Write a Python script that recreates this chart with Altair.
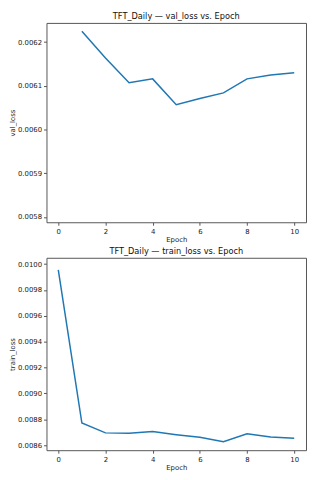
import altair as alt
import pandas as pd

epochs_val = [1, 2, 3, 4, 5, 6, 7, 8, 9, 10]
val_loss = [0.006225, 0.006164, 0.006107, 0.006116, 0.006057, 0.006071, 0.006084, 0.006116, 0.006125, 0.006130]

epochs_train = [0, 1, 2, 3, 4, 5, 6, 7, 8, 9, 10]
train_loss = [0.009956, 0.008771, 0.008695, 0.008693, 0.008705, 0.008681, 0.008661, 0.008627, 0.008688, 0.008664, 0.008654]

x_ticks = [0, 2, 4, 6, 8, 10]
val_ticks = [0.0058, 0.0059, 0.0060, 0.0061, 0.0062]
train_ticks = [0.0086, 0.0088, 0.0090, 0.0092, 0.0094, 0.0096, 0.0098, 0.0100]

df_val = pd.DataFrame({"Epoch": epochs_val, "val_loss": val_loss})
df_train = pd.DataFrame({"Epoch": epochs_train, "train_loss": train_loss})

LINE = "#1f77b4"
FONT = "DejaVu Sans"

def xaxis():
    return alt.X("Epoch:Q", scale=alt.Scale(domain=[-0.5, 10.5], nice=False, zero=False),
                 axis=alt.Axis(values=x_ticks, title="Epoch", grid=False, format="d"))

top = alt.Chart(df_val).mark_line(color=LINE, strokeWidth=1.5).encode(
    x=xaxis(),
    y=alt.Y("val_loss:Q", scale=alt.Scale(domain=[0.005788, 0.006244], nice=False, zero=False),
            axis=alt.Axis(values=val_ticks, format=".4f", title="val_loss", grid=False)),
).properties(width=263, height=202, title="TFT_Daily — val_loss vs. Epoch")

bottom = alt.Chart(df_train).mark_line(color=LINE, strokeWidth=1.5).encode(
    x=xaxis(),
    y=alt.Y("train_loss:Q", scale=alt.Scale(domain=[0.008561, 0.010049], nice=False, zero=False),
            axis=alt.Axis(values=train_ticks, format=".4f", title="train_loss", grid=False)),
).properties(width=263, height=195, title="TFT_Daily — train_loss vs. Epoch")

chart = alt.vconcat(top, bottom, spacing=2).properties(
    padding=0
).configure(font=FONT).configure_view(
    stroke="#555555", strokeWidth=1
).configure_axis(
    labelFont=FONT, titleFont=FONT, labelFontSize=7, titleFontSize=7,
    labelColor="#222222", titleColor="#222222", titleFontWeight="normal",
    domain=False, tickColor="#555555", tickSize=3, labelPadding=2, titlePadding=2,
).configure_title(
    font=FONT, fontSize=8.3, fontWeight="normal", color="#111111", offset=3, anchor="middle"
)

chart.save("out.html", embed_options={"renderer": "svg", "actions": False})
